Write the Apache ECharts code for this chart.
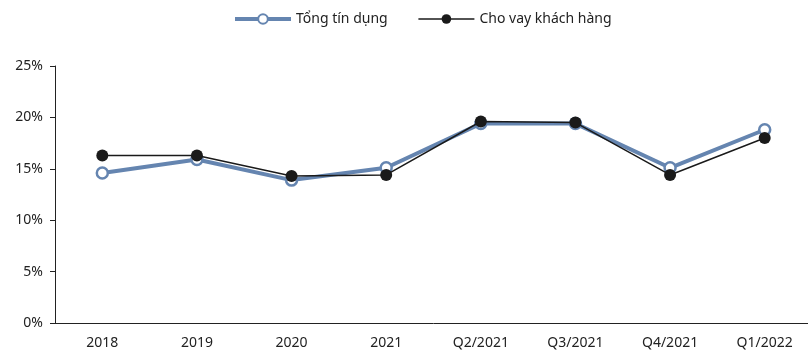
<!DOCTYPE html>
<html><head><meta charset="utf-8">
<script src="https://cdn.jsdelivr.net/npm/echarts@6/dist/echarts.min.js"></script>
<style>html,body{margin:0;padding:0;background:#fff;overflow:hidden;width:808px;height:351px}#c{width:812px;height:351px}</style>
</head><body><div id="c"></div>
<script>
const categories = ['2018','2019','2020','2021','Q2/2021','Q3/2021','Q4/2021','Q1/2022'];
const tongTinDung = [14.6, 15.9, 13.9, 15.1, 19.4, 19.4, 15.1, 18.8];
const choVay = [16.3, 16.3, 14.3, 14.4, 19.6, 19.5, 14.4, 18.0];
const seriesNames = ['Tổng tín dụng', 'Cho vay khách hàng'];
const yTicks = [0, 5, 10, 15, 20, 25];

const chart = echarts.init(document.getElementById('c'));
const font = 'Noto Sans';
chart.setOption({
  animation: false,
  textStyle: {fontFamily: font},
  legend: {
    top: 7, left: 228, itemWidth: 56, itemHeight: 12, itemGap: 30,
    textStyle: {fontFamily: font, fontSize: 14, color: '#222'},
    data: [
      {name: seriesNames[0], lineStyle: {width: 4, color: '#6585B0'}},
      {name: seriesNames[1], lineStyle: {width: 1.5, color: '#1a1a1a'}}
    ]
  },
  grid: {left: 55, right: 0, top: 66, bottom: 28},
  xAxis: {
    type: 'category', data: categories,
    axisLine: {lineStyle: {color: '#222', width: 1}},
    axisTick: {inside: true, length: 6, lineStyle: {color: '#222'}},
    axisLabel: {fontFamily: font, fontSize: 14, color: '#222', margin: 13}
  },
  yAxis: {
    type: 'value', min: yTicks[0], max: yTicks[yTicks.length-1], interval: 5,
    splitLine: {show: false},
    axisLine: {show: true, lineStyle: {color: '#222', width: 1}},
    axisTick: {show: true, length: 5, lineStyle: {color: '#222'}},
    axisLabel: {fontFamily: font, fontSize: 14, color: '#222', margin: 12, formatter: v => v + '%'}
  },
  series: [
    {
      name: seriesNames[0], type: 'line', data: tongTinDung,
      symbol: 'circle', symbolSize: 11,
      lineStyle: {color: '#6585B0', width: 4},
      itemStyle: {color: '#fff', borderColor: '#6585B0', borderWidth: 2.5},
      z: 2
    },
    {
      name: seriesNames[1], type: 'line', data: choVay,
      symbol: 'circle', symbolSize: 12,
      lineStyle: {color: '#1a1a1a', width: 1.5},
      itemStyle: {color: '#1a1a1a', borderColor: '#1a1a1a', borderWidth: 0},
      z: 3
    }
  ]
});
</script></body></html>
